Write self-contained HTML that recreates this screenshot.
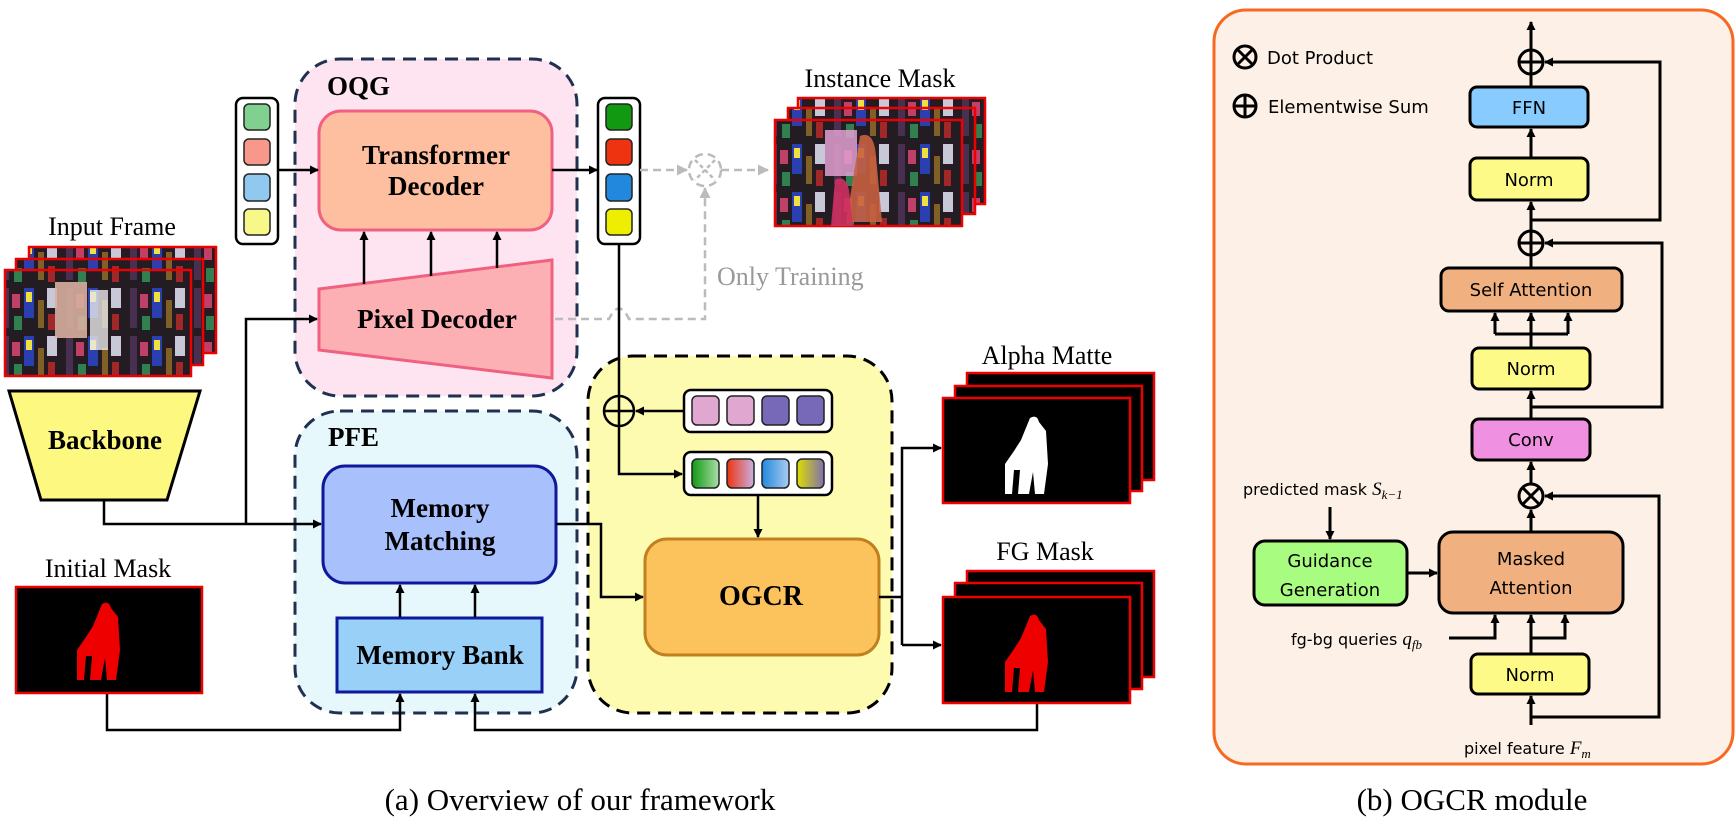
<!DOCTYPE html>
<html><head><meta charset="utf-8"><style>
html,body{margin:0;padding:0;background:#fff;}
svg{display:block;}
.s{font-family:"Liberation Serif",serif;}
.b{font-family:"Liberation Serif",serif;font-weight:bold;}
.g{font-family:"DejaVu Sans","Liberation Sans",sans-serif;}
</style></head><body>
<svg width="1736" height="828" viewBox="0 0 1736 828" xmlns="http://www.w3.org/2000/svg">
<defs>
<marker id="a" markerWidth="9" markerHeight="9" refX="8" refY="4.5" orient="auto" markerUnits="userSpaceOnUse"><path d="M0,0 L9,4.5 L0,9 z" fill="#000"/></marker>
<marker id="ag" markerWidth="11" markerHeight="11" refX="10" refY="5.5" orient="auto" markerUnits="userSpaceOnUse"><path d="M0,0 L11,5.5 L0,11 z" fill="#bbb"/></marker>
<pattern id="city" width="64" height="48" patternUnits="userSpaceOnUse">
<rect width="64" height="48" fill="#231c22"/>
<rect x="2" y="0" width="7" height="40" fill="#4a3050"/><rect x="12" y="6" width="8" height="14" fill="#c04068"/>
<rect x="24" y="0" width="10" height="30" fill="#2a40b0"/><rect x="26" y="4" width="6" height="10" fill="#f0e040"/>
<rect x="38" y="12" width="6" height="28" fill="#806028"/><rect x="47" y="0" width="10" height="20" fill="#c8c8d8"/>
<rect x="14" y="28" width="8" height="14" fill="#308050"/><rect x="48" y="26" width="7" height="16" fill="#a02828"/>
</pattern>
<linearGradient id="g1" x1="0" x2="1"><stop offset="0" stop-color="#119911"/><stop offset="1" stop-color="#aaddaa"/></linearGradient>
<linearGradient id="g2" x1="0" x2="1"><stop offset="0" stop-color="#ee3311"/><stop offset="1" stop-color="#c8b0e0"/></linearGradient>
<linearGradient id="g3" x1="0" x2="1"><stop offset="0" stop-color="#2288dd"/><stop offset="1" stop-color="#aaccf0"/></linearGradient>
<linearGradient id="g4" x1="0" x2="1"><stop offset="0" stop-color="#dddd00"/><stop offset="1" stop-color="#8070b0"/></linearGradient>
</defs>

<rect x="295" y="59" width="282" height="337" rx="45" fill="#fde4f0" stroke="#1f3050" stroke-width="3" stroke-dasharray="13,8"/>
<text x="327" y="95" class="b" font-size="27">OQG</text>
<rect x="319" y="111" width="233" height="119" rx="22" fill="#fdbf9f" stroke="#f06080" stroke-width="3"/>
<text x="436" y="164" class="b" font-size="27" text-anchor="middle">Transformer</text>
<text x="436" y="195" class="b" font-size="27" text-anchor="middle">Decoder</text>
<polygon points="319,289 552,260 552,378 319,350" fill="#fdb0b4" stroke="#f06080" stroke-width="3"/>
<text x="437" y="328" class="b" font-size="27" text-anchor="middle">Pixel Decoder</text>
<g stroke="#000" stroke-width="2.5" marker-end="url(#a)">
<line x1="364" y1="284" x2="364" y2="232"/><line x1="431" y1="276" x2="431" y2="232"/><line x1="497" y1="268" x2="497" y2="232"/>
</g>

<rect x="295" y="411" width="282" height="302" rx="45" fill="#e6f8fc" stroke="#1f3050" stroke-width="3" stroke-dasharray="13,8"/>
<text x="328" y="446" class="b" font-size="27">PFE</text>
<rect x="323" y="466" width="233" height="117" rx="22" fill="#a8c0fc" stroke="#10189a" stroke-width="3"/>
<text x="440" y="517" class="b" font-size="27" text-anchor="middle">Memory</text>
<text x="440" y="550" class="b" font-size="27" text-anchor="middle">Matching</text>
<rect x="337" y="618" width="205" height="74" fill="#98d0f8" stroke="#10189a" stroke-width="3"/>
<text x="440" y="664" class="b" font-size="27" text-anchor="middle">Memory Bank</text>
<g stroke="#000" stroke-width="2.5" marker-end="url(#a)">
<line x1="400" y1="617" x2="400" y2="585"/><line x1="475" y1="617" x2="475" y2="585"/>
</g>

<rect x="588" y="356" width="304" height="357" rx="45" fill="#fdfbb0" stroke="#000" stroke-width="3" stroke-dasharray="13,8"/>
<rect x="645" y="539" width="234" height="116" rx="22" fill="#fcc25c" stroke="#c08020" stroke-width="3"/>
<text x="761" y="605" class="b" font-size="28" text-anchor="middle">OGCR</text>

<rect x="236" y="98" width="42" height="146" rx="7" fill="#fff" stroke="#000" stroke-width="2.5"/>
<rect x="244" y="104" width="26" height="26" rx="5" fill="#80d090" stroke="#222" stroke-width="1.5"/>
<rect x="244" y="139" width="26" height="26" rx="5" fill="#f8988a" stroke="#222" stroke-width="1.5"/>
<rect x="244" y="174" width="26" height="27" rx="5" fill="#90c8f0" stroke="#222" stroke-width="1.5"/>
<rect x="244" y="209" width="26" height="26" rx="5" fill="#f8f888" stroke="#222" stroke-width="1.5"/>
<rect x="598" y="98" width="42" height="146" rx="7" fill="#fff" stroke="#000" stroke-width="2.5"/>
<rect x="606" y="104" width="26" height="26" rx="5" fill="#119911" stroke="#222" stroke-width="1.5"/>
<rect x="606" y="139" width="26" height="26" rx="5" fill="#ee3311" stroke="#222" stroke-width="1.5"/>
<rect x="606" y="174" width="26" height="27" rx="5" fill="#2288dd" stroke="#222" stroke-width="1.5"/>
<rect x="606" y="209" width="26" height="26" rx="5" fill="#eeee00" stroke="#222" stroke-width="1.5"/>
<g stroke="#000" stroke-width="2.5" fill="none" marker-end="url(#a)">
<line x1="278" y1="170" x2="318" y2="170"/><line x1="552" y1="170" x2="597" y2="170"/>
</g>

<g stroke="#bbb" stroke-width="2.5" fill="none" stroke-dasharray="8,5">
<line x1="640" y1="170" x2="687" y2="170" marker-end="url(#ag)"/>
<circle cx="705" cy="170" r="16"/>
<line x1="721" y1="170" x2="768" y2="170" marker-end="url(#ag)"/>
<path d="M555,319 L609,319 Q619,298 629,319 L705,319 L705,188" marker-end="url(#ag)"/>
</g>
<g stroke="#bbb" stroke-width="2.5" stroke-dasharray="4,3">
<line x1="695" y1="160" x2="715" y2="180"/><line x1="715" y1="160" x2="695" y2="180"/>
</g>
<text x="717" y="285" class="s" font-size="26" fill="#999">Only Training</text>

<text x="880" y="87" class="s" font-size="26" text-anchor="middle">Instance Mask</text>
<rect x="798" y="98" width="187" height="106" fill="url(#city)" stroke="#e00" stroke-width="2.5"/>
<rect x="788" y="108" width="187" height="106" fill="url(#city)" stroke="#e00" stroke-width="2.5"/>
<rect x="775" y="120" width="187" height="106" fill="url(#city)" stroke="#e00" stroke-width="2.5"/>
<rect x="825" y="130" width="32" height="46" fill="#e0a0d0" opacity=".85"/>
<path d="M860,136 q14,-6 16,20 l6,66 h-36 z" fill="#c86040" opacity=".9"/>
<path d="M835,180 q10,-6 14,10 l4,36 h-22 z" fill="#d03060" opacity=".9"/>

<text x="112" y="235" class="s" font-size="26" text-anchor="middle">Input Frame</text>
<rect x="29" y="247" width="187" height="106" fill="url(#city)" stroke="#e00" stroke-width="2.5"/>
<rect x="16" y="259" width="187" height="106" fill="url(#city)" stroke="#e00" stroke-width="2.5"/>
<rect x="5" y="270" width="186" height="106" fill="url(#city)" stroke="#e00" stroke-width="2.5"/>
<rect x="55" y="282" width="32" height="56" fill="#d8b0a0" opacity=".9"/>
<rect x="90" y="290" width="18" height="60" fill="#e8e8e8" opacity=".8"/>

<polygon points="9,391 200,391 167,500 41,500" fill="#fdf880" stroke="#000" stroke-width="3"/>
<text x="105" y="449" class="b" font-size="27" text-anchor="middle">Backbone</text>

<g stroke="#000" stroke-width="2.5" fill="none">
<path d="M104,500 L104,524 L321,524" marker-end="url(#a)"/>
<path d="M246,524 L246,319 L317,319" marker-end="url(#a)"/>
<path d="M619,244 L619,474 L682,474" marker-end="url(#a)"/>
<circle cx="619" cy="411" r="15" fill="#fdfbb0"/>
<line x1="604" y1="411" x2="634" y2="411"/>
<line x1="619" y1="396" x2="619" y2="426"/>
<line x1="684" y1="411" x2="636" y2="411" marker-end="url(#a)"/>
<line x1="758" y1="495" x2="758" y2="537" marker-end="url(#a)"/>
<path d="M556,524 L601,524 L601,597 L643,597" marker-end="url(#a)"/>
<path d="M879,597 L902,597"/>
<path d="M902,645 L902,448 L941,448" marker-end="url(#a)"/>
<path d="M902,645 L941,645" marker-end="url(#a)"/>
<path d="M107,693 L107,730 L400,730 L400,694" marker-end="url(#a)"/>
<path d="M1037,703 L1037,730 L475,730 L475,694" marker-end="url(#a)"/>
</g>
<rect x="684" y="390" width="148" height="42" rx="7" fill="#fff" stroke="#000" stroke-width="2.5"/>
<rect x="692" y="396" width="27" height="29" rx="5" fill="#e0a8d0" stroke="#222" stroke-width="1.5"/>
<rect x="727" y="396" width="27" height="29" rx="5" fill="#e0a8d0" stroke="#222" stroke-width="1.5"/>
<rect x="762" y="396" width="27" height="29" rx="5" fill="#7868b8" stroke="#222" stroke-width="1.5"/>
<rect x="797" y="396" width="27" height="29" rx="5" fill="#7868b8" stroke="#222" stroke-width="1.5"/>
<rect x="684" y="452" width="148" height="43" rx="7" fill="#fff" stroke="#000" stroke-width="2.5"/>
<rect x="692" y="459" width="27" height="29" rx="5" fill="url(#g1)" stroke="#222" stroke-width="1.5"/>
<rect x="727" y="459" width="27" height="29" rx="5" fill="url(#g2)" stroke="#222" stroke-width="1.5"/>
<rect x="762" y="459" width="27" height="29" rx="5" fill="url(#g3)" stroke="#222" stroke-width="1.5"/>
<rect x="797" y="459" width="27" height="29" rx="5" fill="url(#g4)" stroke="#222" stroke-width="1.5"/>

<text x="1047" y="364" class="s" font-size="26" text-anchor="middle">Alpha Matte</text>
<rect x="967" y="373" width="187" height="107" fill="#000" stroke="#e00" stroke-width="2.5"/>
<rect x="955" y="386" width="187" height="105" fill="#000" stroke="#e00" stroke-width="2.5"/>
<rect x="943" y="398" width="187" height="105" fill="#000" stroke="#e00" stroke-width="2.5"/>
<path d="M1030,418 q7,-4 9,4 l7,9 l2,33 l-4,30 h-9 l-2,-22 l-4,22 h-11 l2,-24 l-6,0 l-2,24 h-7 l0,-30 l9,-13 l7,-11 z" fill="#fff"/>
<text x="1045" y="560" class="s" font-size="26" text-anchor="middle">FG Mask</text>
<rect x="967" y="571" width="187" height="106" fill="#000" stroke="#e00" stroke-width="2.5"/>
<rect x="955" y="583" width="187" height="106" fill="#000" stroke="#e00" stroke-width="2.5"/>
<rect x="943" y="597" width="187" height="106" fill="#000" stroke="#e00" stroke-width="2.5"/>
<path d="M1030,616 q7,-4 9,4 l7,9 l2,33 l-4,30 h-9 l-2,-22 l-4,22 h-11 l2,-24 l-6,0 l-2,24 h-7 l0,-30 l9,-13 l7,-11 z" fill="#e00"/>

<text x="108" y="577" class="s" font-size="26" text-anchor="middle">Initial Mask</text>
<rect x="16" y="587" width="186" height="106" fill="#000" stroke="#e00" stroke-width="2.5"/>
<path d="M102,604 q7,-4 9,4 l7,9 l2,33 l-4,30 h-9 l-2,-22 l-4,22 h-11 l2,-24 l-6,0 l-2,24 h-7 l0,-30 l9,-13 l7,-11 z" fill="#e00"/>

<text x="580" y="810" class="s" font-size="31" text-anchor="middle">(a) Overview of our framework</text>
<text x="1472" y="810" class="s" font-size="31" text-anchor="middle">(b) OGCR module</text>

<rect x="1214" y="10" width="519" height="754" rx="32" fill="#fdf0e6" stroke="#f86820" stroke-width="3"/>
<g stroke="#000" stroke-width="3" fill="none">
<circle cx="1245" cy="57" r="11"/><line x1="1237" y1="49" x2="1253" y2="65"/><line x1="1253" y1="49" x2="1237" y2="65"/>
<circle cx="1245" cy="106" r="11"/><line x1="1234" y1="106" x2="1256" y2="106"/><line x1="1245" y1="95" x2="1245" y2="117"/>
</g>
<text x="1267" y="64" class="g" font-size="18">Dot Product</text>
<text x="1268" y="113" class="g" font-size="18">Elementwise Sum</text>

<g stroke="#000" stroke-width="3" fill="none">
<line x1="1531" y1="725" x2="1531" y2="696" marker-end="url(#a)"/>
<line x1="1531" y1="654" x2="1531" y2="615" marker-end="url(#a)"/>
<path d="M1531,638 L1565,638 L1565,615" marker-end="url(#a)"/>
<path d="M1449,638 L1495,638 L1495,615" marker-end="url(#a)"/>
<path d="M1531,717 L1659,717 L1659,496 L1545,496" marker-end="url(#a)"/>
<line x1="1531" y1="532" x2="1531" y2="510" marker-end="url(#a)"/>
<circle cx="1531" cy="496" r="12"/><line x1="1523" y1="488" x2="1539" y2="504"/><line x1="1539" y1="488" x2="1523" y2="504"/>
<line x1="1531" y1="484" x2="1531" y2="462" marker-end="url(#a)"/>
<line x1="1531" y1="419" x2="1531" y2="391" marker-end="url(#a)"/>
<path d="M1531,407 L1662,407 L1662,243 L1545,243" marker-end="url(#a)"/>
<line x1="1531" y1="348" x2="1531" y2="313" marker-end="url(#a)"/>
<path d="M1495,334 L1568,334"/>
<line x1="1495" y1="334" x2="1495" y2="313" marker-end="url(#a)"/>
<line x1="1568" y1="334" x2="1568" y2="313" marker-end="url(#a)"/>
<line x1="1531" y1="268" x2="1531" y2="231"/>
<circle cx="1531" cy="243" r="12"/>
<line x1="1519" y1="243" x2="1543" y2="243"/>
<line x1="1531" y1="231" x2="1531" y2="202" marker-end="url(#a)"/>
<path d="M1531,220 L1660,220 L1660,62 L1545,62" marker-end="url(#a)"/>
<line x1="1531" y1="158" x2="1531" y2="129" marker-end="url(#a)"/>
<line x1="1531" y1="87" x2="1531" y2="50"/>
<circle cx="1531" cy="62" r="12"/>
<line x1="1519" y1="62" x2="1543" y2="62"/>
<line x1="1531" y1="50" x2="1531" y2="22" marker-end="url(#a)"/>
<line x1="1330" y1="507" x2="1330" y2="539" marker-end="url(#a)"/>
<line x1="1407" y1="573" x2="1437" y2="573" marker-end="url(#a)"/>
</g>
<g stroke="#000" stroke-width="3">
<rect x="1470" y="87" width="118" height="40" rx="7" fill="#88ccff"/>
<rect x="1470" y="158" width="118" height="42" rx="7" fill="#fdfa88"/>
<rect x="1441" y="268" width="181" height="43" rx="8" fill="#f0b080"/>
<rect x="1472" y="348" width="118" height="41" rx="7" fill="#fdfa88"/>
<rect x="1472" y="419" width="118" height="41" rx="7" fill="#f090e0"/>
<rect x="1439" y="532" width="184" height="81" rx="14" fill="#f0b080"/>
<rect x="1254" y="541" width="153" height="64" rx="11" fill="#a8fc80"/>
<rect x="1471" y="654" width="118" height="40" rx="7" fill="#fdfa88"/>
</g>
<g class="g" text-anchor="middle" font-size="18">
<text x="1529" y="114">FFN</text>
<text x="1529" y="186">Norm</text>
<text x="1531" y="296">Self Attention</text>
<text x="1531" y="375">Norm</text>
<text x="1531" y="446">Conv</text>
<text x="1531" y="565">Masked</text>
<text x="1531" y="594">Attention</text>
<text x="1330" y="567">Guidance</text>
<text x="1330" y="596">Generation</text>
<text x="1530" y="681">Norm</text>
</g>
<text x="1243" y="495" class="g" font-size="16">predicted mask <tspan class="s" font-style="italic" font-size="19">S</tspan><tspan class="s" font-style="italic" font-size="13" dy="4">k−1</tspan></text>
<text x="1291" y="645" class="g" font-size="16">fg-bg queries <tspan class="s" font-style="italic" font-size="19">q</tspan><tspan class="s" font-style="italic" font-size="13" dy="4">fb</tspan></text>
<text x="1464" y="754" class="g" font-size="16">pixel feature <tspan class="s" font-style="italic" font-size="19">F</tspan><tspan class="s" font-style="italic" font-size="13" dy="4">m</tspan></text>
</svg>
</body></html>
